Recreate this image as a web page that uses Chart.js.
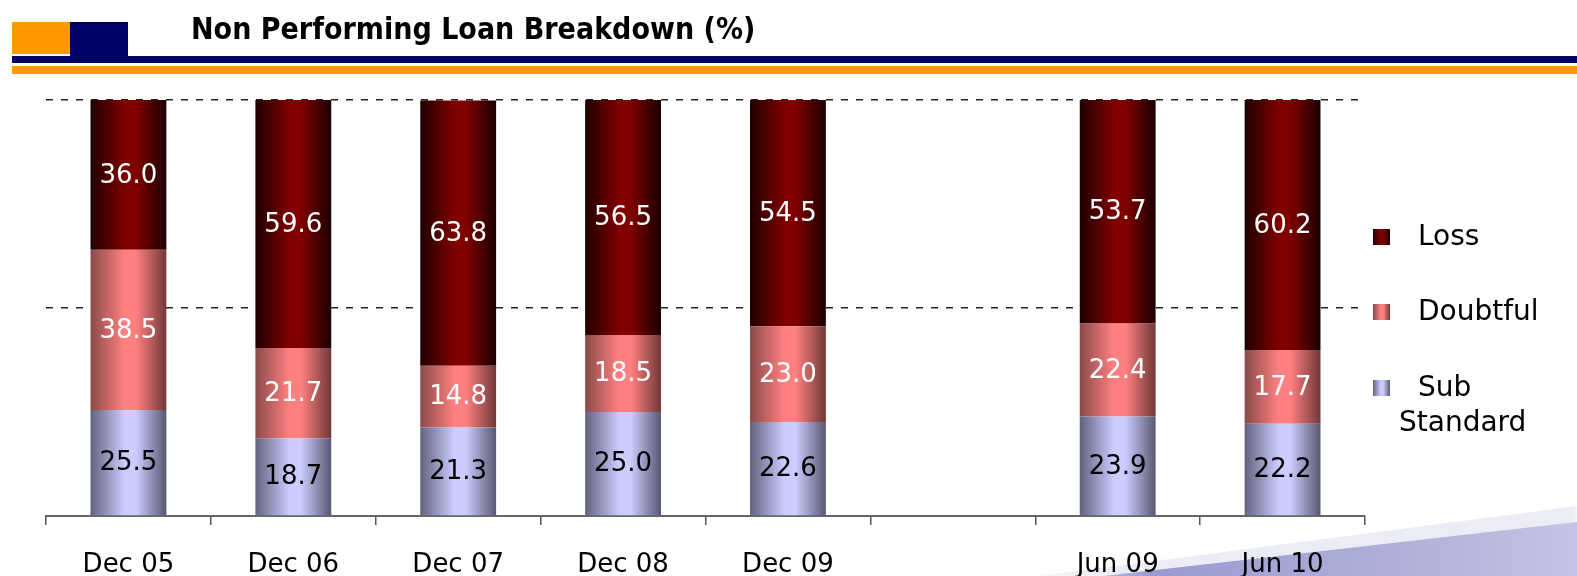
<!DOCTYPE html>
<html>
<head>
<meta charset="utf-8">
<title>Non Performing Loan Breakdown</title>
<script src="https://cdn.jsdelivr.net/npm/chart.js@4.4.1/dist/chart.umd.min.js"></script>
<style>
  html, body { margin: 0; padding: 0; background: #fff; }
  body { width: 1577px; height: 576px; position: relative; overflow: hidden; font-family: "DejaVu Sans", sans-serif; }
  .sq-orange { position: absolute; left: 12px; top: 22px; width: 58px; height: 32px; background: #ff9900; }
  .sq-navy { position: absolute; left: 70px; top: 22px; width: 58px; height: 41px; background: #000066; }
  .line-navy { position: absolute; left: 12px; right: 0; top: 56px; height: 7px; background: #000066; }
  .line-orange { position: absolute; left: 12px; right: 0; top: 66px; height: 8px; background: #ff9900; }
  h1 { position: absolute; left: 191px; top: 11px; margin: 0; font: bold 27px "DejaVu Sans", sans-serif; color: #000; white-space: nowrap; transform: scaleY(1.12); transform-origin: 0 0; }
  .swoosh-pale { position: absolute; inset: 0; background: #ececf6; clip-path: polygon(1040px 576px, 1577px 506px, 1577px 576px); filter: blur(2px); }
  .swoosh { position: absolute; inset: 0; background: linear-gradient(90deg, #ffffff 1000px, #9a9ad0 1150px, #b0b0da 1400px, #c4c4e4 1577px); clip-path: polygon(1085px 578px, 1577px 522px, 1577px 576px); }
  #chart { position: absolute; left: 0; top: 0; }
</style>
</head>
<body>
<div class="sq-orange"></div>
<div class="line-navy"></div>
<div class="sq-navy"></div>
<div class="line-orange"></div>
<h1>Non Performing Loan Breakdown (%)</h1>
<div class="swoosh-pale"></div>
<div class="swoosh"></div>
<canvas id="chart" width="1577" height="576"></canvas>
<script>
// periods (one blank slot between Dec 09 and Jun 09)
const categories = ['Dec 05', 'Dec 06', 'Dec 07', 'Dec 08', 'Dec 09', '', 'Jun 09', 'Jun 10']

// share of NPLs, %
const subStandard = [25.5, 18.7, 21.3, 25.0, 22.6, null, 23.9, 22.2]
const doubtful    = [38.5, 21.7, 14.8, 18.5, 23.0, null, 22.4, 17.7]
const loss        = [36.0, 59.6, 63.8, 56.5, 54.5, null, 53.7, 60.2]

const yTicks = [0, 50, 100]

const BAR_PCT = 0.46
const FONT = '"DejaVu Sans", sans-serif'

// edge / centre / edge colours for the cylinder look
const shades = {
  loss:     ['#1e0000', '#800000', '#800000', '#1a0000'],
  doubtful: ['#8a4a4a', '#ff8080', '#ff8080', '#703838'],
  sub:      ['#62627e', '#ccccff', '#ccccff', '#585872']
}

function gradientAt(ctx2d, left, right, cols) {
  const g = ctx2d.createLinearGradient(left, 0, right, 0)
  g.addColorStop(0, cols[0])
  g.addColorStop(0.45, cols[1])
  g.addColorStop(0.6, cols[2])
  g.addColorStop(1, cols[3])
  return g
}

function barFill(cols) {
  return function(context) {
    const chart = context.chart
    const x = chart.scales.x
    if (!x || context.dataIndex === undefined || !chart.chartArea) return cols[1]
    const cx = x.getPixelForValue(context.dataIndex)
    const half = (x.width / categories.length) * BAR_PCT / 2
    return gradientAt(chart.ctx, cx - half, cx + half, cols)
  }
}

// values written in the middle of each segment
const segmentLabels = {
  id: 'segmentLabels',
  afterDatasetsDraw(chart) {
    const ctx = chart.ctx
    ctx.save()
    ctx.font = '26px ' + FONT
    ctx.textAlign = 'center'
    ctx.textBaseline = 'middle'
    chart.data.datasets.forEach((ds, i) => {
      const meta = chart.getDatasetMeta(i)
      meta.data.forEach((bar, j) => {
        const v = ds.data[j]
        if (v === null || v === undefined) return
        ctx.fillStyle = ds.labelColor
        ctx.fillText(v.toFixed(1), bar.x, (bar.y + bar.base) / 2 + 1)
      })
    })
    ctx.restore()
  }
}

// legend on the right, top to bottom: Loss, Doubtful, Sub Standard
const sideLegend = {
  id: 'sideLegend',
  afterDraw(chart) {
    const ctx = chart.ctx
    const items = [
      { lines: ['Loss'], cols: shades.loss, y: 237 },
      { lines: ['Doubtful'], cols: shades.doubtful, y: 312 },
      { lines: ['Sub', 'Standard'], cols: shades.sub, y: 388 }
    ]
    ctx.save()
    ctx.font = '28px ' + FONT
    ctx.textBaseline = 'middle'
    ctx.fillStyle = '#000'
    items.forEach(it => {
      ctx.fillStyle = gradientAt(ctx, 1373, 1390, it.cols)
      ctx.fillRect(1373, it.y - 8, 17, 16)
      ctx.fillStyle = '#000'
      ctx.textAlign = 'left'
      ctx.fillText(it.lines[0], 1418, it.y + 1)
      if (it.lines[1]) ctx.fillText(it.lines[1], 1399, it.y + 36)
    })
    ctx.restore()
  }
}

new Chart(document.getElementById('chart'), {
  type: 'bar',
  data: {
    labels: categories,
    datasets: [
      { label: 'Sub Standard', data: subStandard, backgroundColor: barFill(shades.sub), labelColor: '#000' },
      { label: 'Doubtful', data: doubtful, backgroundColor: barFill(shades.doubtful), labelColor: '#fff' },
      { label: 'Loss', data: loss, backgroundColor: barFill(shades.loss), labelColor: '#fff' }
    ]
  },
  options: {
    responsive: false,
    animation: false,
    devicePixelRatio: 1,
    layout: { padding: { left: 46, right: 212, top: 100, bottom: 0 } },
    datasets: {
      bar: { barPercentage: BAR_PCT, categoryPercentage: 1, borderWidth: 0 }
    },
    plugins: {
      legend: { display: false },
      tooltip: { enabled: false }
    },
    scales: {
      x: {
        stacked: true,
        afterFit: s => { s.height = 60 },
        grid: {
          display: true,
          drawOnChartArea: false,
          tickLength: 9,
          color: '#555',
          lineWidth: 1.5
        },
        border: { display: true, color: '#666', width: 2 },
        ticks: {
          color: '#000',
          padding: 25,
          maxRotation: 0,
          font: { family: FONT, size: 26 }
        }
      },
      y: {
        stacked: true,
        min: 0,
        max: 100,
        afterFit: s => { s.width = 0 },
        afterBuildTicks: s => { s.ticks = yTicks.map(v => ({ value: v })) },
        ticks: { display: false },
        border: { display: false, dash: [7, 8] },
        grid: {
          drawTicks: false,
          lineWidth: 1.5,
          color: c => (c.tick && c.tick.value === 0) ? 'rgba(0,0,0,0)' : '#222'
        }
      }
    }
  },
  plugins: [segmentLabels, sideLegend]
})
</script>
</body>
</html>
